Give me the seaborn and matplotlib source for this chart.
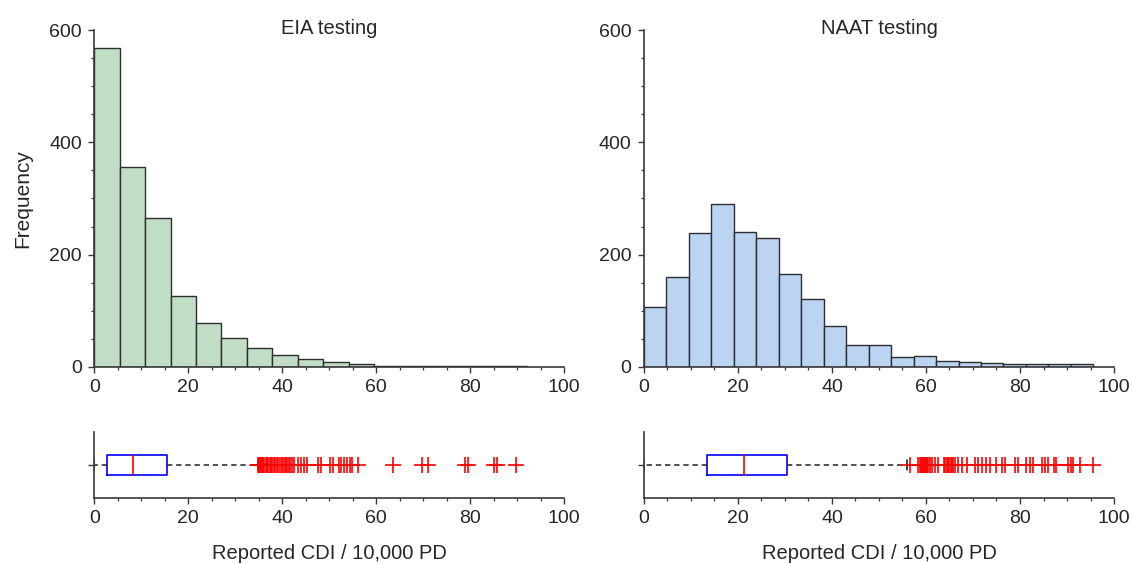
import numpy as np
import pandas as pd
import matplotlib
matplotlib.use('Agg')
import matplotlib.pyplot as plt
import seaborn as sns
from matplotlib.ticker import MultipleLocator

sns.set_style('ticks')
plt.rcParams['font.family'] = ['Liberation Sans', 'DejaVu Sans']

# ---------------- data ----------------
eia_bin_width = 5.41
eia_counts = [569, 357, 265, 126, 78, 52, 34, 21, 13, 8, 4, 1, 1, 1, 2, 2, 1]
naat_bin_width = 4.78
naat_counts = [106, 160, 238, 291, 240, 229, 166, 121, 73, 38, 38, 18, 19, 10, 8, 7, 4, 5, 5, 4]

# box plot summaries: whisker low, q1, median, q3, whisker high
eia_box = [0.0, 2.6, 8.2, 15.5, 34.8]
naat_box = [0.0, 13.4, 21.3, 30.4, 55.9]

eia_outliers = [34.9, 35.0, 35.2, 35.4, 35.6, 35.8, 36.0, 36.2, 36.5, 36.7, 37.0,
                37.3, 37.6, 37.9, 38.2, 38.5, 38.8, 39.1, 39.6, 39.9, 40.2, 40.5,
                40.8, 41.1, 41.4, 41.7, 42.0, 42.4, 43.4, 44.0, 44.6, 45.2, 47.7,
                48.3, 50.2, 50.7, 52.0, 52.5, 53.1, 53.7, 54.3, 54.8, 56.2,
                63.5, 69.7, 71.1, 78.8, 79.6, 85.1, 85.7, 89.7]
naat_outliers = [56.6, 58.4, 58.7, 58.9, 59.1, 59.3, 59.5, 59.7, 59.9, 60.1, 60.3,
                 60.5, 60.9, 61.3, 61.9, 62.5, 63.9, 64.1, 64.4, 64.7, 65.0, 65.3,
                 65.6, 65.8, 66.2, 66.9, 67.6, 68.7, 70.4, 71.1, 72.0, 72.7, 73.6,
                 74.8, 76.1, 76.8, 78.9, 79.6, 81.3, 82.1, 82.8, 84.6, 85.3, 86.0,
                 87.2, 87.6, 90.3, 90.8, 91.2, 92.8, 95.6]

panels = [
    ('EIA testing', eia_counts, eia_bin_width, eia_box, eia_outliers, '#c1ddc5'),
    ('NAAT testing', naat_counts, naat_bin_width, naat_box, naat_outliers, '#bad4f2'),
]

fig = plt.figure(figsize=(11.32, 5.64), dpi=100)
lefts = [0.0833, 0.5689]
spine_c = '#383838'

for i, (title, counts, bw, box, outl, fc) in enumerate(panels):
    ax = fig.add_axes([lefts[i], 0.3498, 0.4152, 0.5965])
    edges = np.arange(len(counts) + 1) * bw
    hist_df = pd.DataFrame({'x': (edges[:-1] + edges[1:]) / 2, 'n': counts})
    sns.histplot(data=hist_df, x='x', weights='n', bins=list(edges), color=fc,
                 edgecolor='#2e2e2e', linewidth=1.0, alpha=1, ax=ax)
    ax.set_xlim(0, 100)
    ax.set_ylim(0, 600)
    ax.set_yticks([0, 200, 400, 600])
    ax.set_xticks(np.arange(0, 101, 20))
    ax.xaxis.set_minor_locator(MultipleLocator(5))
    ax.yaxis.set_minor_locator(MultipleLocator(50))
    ax.set_ylabel('Frequency' if i == 0 else '', fontsize=15)
    ax.yaxis.set_label_coords(-0.133, 0.5)
    ax.set_xlabel('')
    ax.text(0.5, 0.99, title, ha='center', va='baseline', fontsize=14.5,
            transform=ax.transAxes)
    sns.despine(ax=ax)

    bx = fig.add_axes([lefts[i], 0.1176, 0.4152, 0.116])
    stats = [{'whislo': box[0], 'q1': box[1], 'med': box[2], 'q3': box[3],
              'whishi': box[4], 'fliers': outl}]
    bx.bxp(stats, positions=[1], widths=0.3, vert=False, showfliers=True,
           boxprops=dict(color='#0000ff', linewidth=1.2),
           medianprops=dict(color='#ff0000', linewidth=1.2),
           whiskerprops=dict(color='#222222', linewidth=1.1, linestyle=(0, (3.5, 2.5))),
           capprops=dict(color='#111111', linewidth=1.1),
           capwidths=0.15,
           flierprops=dict(marker='+', markeredgecolor='#ff0000', markersize=11.5,
                           markeredgewidth=1.2, linestyle='none'))
    bx.set_xlim(0, 100)
    bx.set_ylim(0.5, 1.5)
    bx.set_xticks(np.arange(0, 101, 20))
    bx.xaxis.set_minor_locator(MultipleLocator(5))
    bx.set_yticks([1])
    bx.set_yticklabels([])
    bx.set_xlabel('Reported CDI / 10,000 PD', fontsize=14.5, labelpad=12)
    sns.despine(ax=bx)

    for a in (ax, bx):
        for s in ('left', 'bottom'):
            a.spines[s].set_color(spine_c)
            a.spines[s].set_linewidth(1.2)
        a.tick_params(which='major', direction='out', length=4, width=1.0,
                      color=spine_c, labelsize=14, pad=5)
        a.tick_params(which='minor', direction='out', length=2.5, width=0.9,
                      color=spine_c)

fig.savefig('out.png', dpi=100)
